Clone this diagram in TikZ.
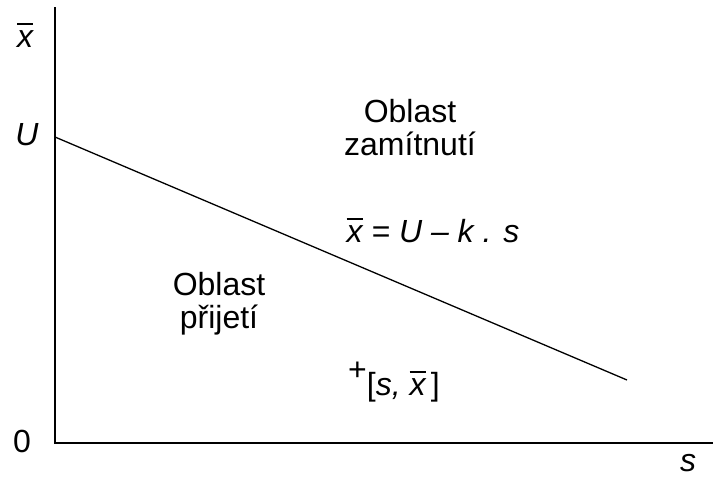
\documentclass[tikz,border=0pt]{standalone}
\usepackage{fontspec}
\setmainfont{Liberation Sans}
\usetikzlibrary{positioning}
\newcommand{\xb}{\vbox{\hrule height 1.4pt \kern 0.17em \hbox{\textit{x}}}}
\tikzset{
  axislabel/.style={font=\fontsize{32}{34}\selectfont\itshape, inner sep=0pt, anchor=base},
  arealabel/.style={font=\fontsize{32}{33}\selectfont, align=center, inner sep=0pt, anchor=base},
  axisline/.style={line width=1.7pt},
  limitline/.style={line width=1.3pt}
}

\begin{document}
\begin{tikzpicture}[x=1pt, y=-1pt]
    \useasboundingbox (0,0) rectangle (713,479);
    % axes
    \coordinate (top) at (55,7);
    \coordinate (origin) at (55,443);
    \coordinate (right) at (713,443);
    \draw[axisline] (top) -- (origin) -- (right);
    \node[axislabel] (xlab) at (25,47) {\xb};
    \node[axislabel] (ulab) at (27,145) {U};
    \node[axislabel, font=\fontsize{32}{34}\selectfont] (zero) at (22,452) {0};
    \node[axislabel] (slab) at (688,471) {s};
    % limit line
    \coordinate (ustart) at (55,137);
    \coordinate (uend) at (627,380);
    \draw[limitline] (ustart) -- (uend);
    % areas
    \node[arealabel] (reject) at (410,155) {Oblast\\zamítnutí};
    \node[arealabel] (accept) at (219,328) {Oblast\\přijetí};
    \node[axislabel] (rule) at (433,242) {\xb{} = U – k . s};
    \node[axislabel] (point) at (394,395) {\raisebox{0.45em}{\upshape+}{\upshape[}s, \xb\,{\upshape]}};
  \end{tikzpicture}
\end{document}
